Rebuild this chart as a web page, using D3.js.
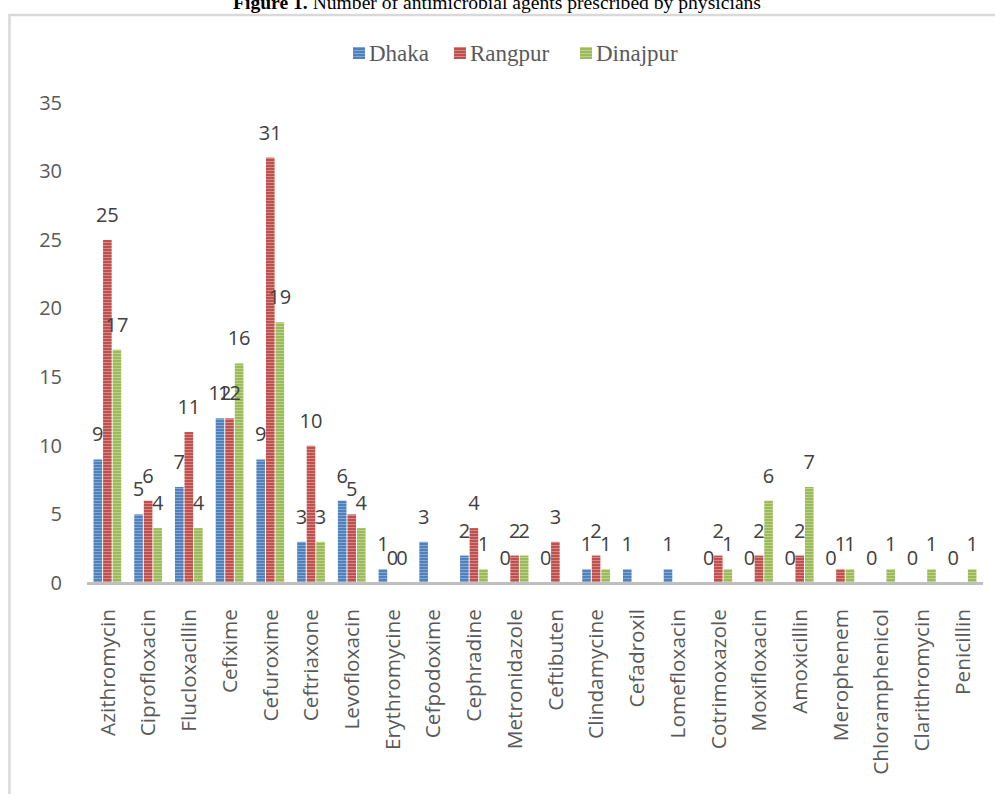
<!DOCTYPE html>
<html>
<head>
<meta charset="utf-8">
<script src="https://cdn.jsdelivr.net/npm/d3@7"></script>
<style>
  body { margin: 0; background: #fff; }
  svg { display: block; }
</style>
</head>
<body>
<div id="chart"></div>
<script>
var width = 995, height = 794;

// data (null = no bar, no label)
var drugs = ["Azithromycin", "Ciprofloxacin", "Flucloxacillin", "Cefixime", "Cefuroxime",
  "Ceftriaxone", "Levofloxacin", "Erythromycine", "Cefpodoxime", "Cephradine",
  "Metronidazole", "Ceftibuten", "Clindamycine", "Cefadroxil", "Lomefloxacin",
  "Cotrimoxazole", "Moxifloxacin", "Amoxicillin", "Merophenem", "Chloramphenicol",
  "Clarithromycin", "Penicillin"];
var dhaka    = [9, 5, 7, 12, 9, 3, 6, 1, 3, 2, 0, 0, 1, 1, 1, 0, 0, 0, 0, 0, 0, 0];
var rangpur  = [25, 6, 11, 12, 31, 10, 5, 0, null, 4, 2, 3, 2, null, null, 2, 2, 2, 1, null, null, null];
var dinajpur = [17, 4, 4, 16, 19, 3, 4, 0, null, 1, 2, null, 1, null, null, 1, 6, 7, 1, 1, 1, 1];
var seriesNames = ["Dhaka", "Rangpur", "Dinajpur"];
var yTicks = [0, 5, 10, 15, 20, 25, 30, 35];

var colors = { Dhaka: "#4F81BD", Rangpur: "#C0504D", Dinajpur: "#9BBB59" };
var stripes = { Dhaka: "#86A9D3", Rangpur: "#D68A88", Dinajpur: "#BDD28F" };

var seriesVals = { Dhaka: dhaka, Rangpur: rangpur, Dinajpur: dinajpur };

var svg = d3.select("#chart").append("svg")
    .attr("width", width)
    .attr("height", height);

// striped fills
var defs = svg.append("defs");
seriesNames.forEach(function(s) {
    var p = defs.append("pattern")
        .attr("id", "pat-" + s)
        .attr("patternUnits", "userSpaceOnUse")
        .attr("width", 4).attr("height", 3);
    p.append("rect").attr("width", 4).attr("height", 3).attr("fill", colors[s]);
    p.append("rect").attr("y", 2).attr("width", 4).attr("height", 1).attr("fill", stripes[s]);
});

// title (cut at top like the source)
var title = svg.append("text")
    .attr("x", 497).attr("y", 9)
    .attr("text-anchor", "middle")
    .style("font-family", "'Liberation Serif', 'Times New Roman', serif")
    .style("font-size", "19.6px")
    .attr("fill", "#000");
title.append("tspan").style("font-weight", "bold").text("Figure 1.");
title.append("tspan").text(" Number of antimicrobial agents prescribed by physicians");

// chart frame
svg.append("rect")
    .attr("x", 9.5).attr("y", 15)
    .attr("width", 1000).attr("height", 800)
    .attr("fill", "none")
    .attr("stroke", "#D9D9D9")
    .attr("stroke-width", 2.5);

// legend
var legendX = [353, 454, 580];
var legend = svg.append("g");
seriesNames.forEach(function(s, i) {
    legend.append("rect")
        .attr("x", legendX[i]).attr("y", 47)
        .attr("width", 12).attr("height", 12)
        .attr("fill", "url(#pat-" + s + ")");
    legend.append("text")
        .attr("x", legendX[i] + 16).attr("y", 61)
        .style("font-family", "'Liberation Serif', 'Times New Roman', serif")
        .style("font-size", "23px")
        .attr("fill", "#595959")
        .text(s);
});

var x0 = d3.scaleBand()
    .domain(drugs)
    .range([87, 983])
    .paddingInner(0.32)
    .paddingOuter(0.16);

var x1 = d3.scaleBand()
    .domain(seriesNames)
    .range([0, x0.bandwidth()])
    .paddingInner(0.1);

var y = d3.scaleLinear()
    .domain([0, 35])
    .range([583, 102.7]);

var font = "'Open Sans', 'Noto Sans', sans-serif";

// y axis labels only
var yAxis = d3.axisLeft(y).tickValues(yTicks).tickSize(0).tickPadding(8);
var gy = svg.append("g")
    .attr("transform", "translate(70,0)")
    .call(yAxis);
gy.select(".domain").remove();
gy.selectAll("text")
    .style("font-family", font)
    .style("font-size", "20px")
    .attr("fill", "#595959");

// bars
var rows = drugs.map(function(d, i) {
    return { drug: d, vals: seriesNames.map(function(s) { return { s: s, v: seriesVals[s][i] }; }) };
});

var groups = svg.selectAll(".grp")
    .data(rows)
    .enter().append("g")
    .attr("class", "grp")
    .attr("transform", function(d) { return "translate(" + x0(d.drug) + ",0)"; });

groups.selectAll("rect")
    .data(function(d) { return d.vals.filter(function(o) { return o.v !== null; }); })
    .enter().append("rect")
    .attr("x", function(o) { return x1(o.s); })
    .attr("y", function(o) { return y(o.v); })
    .attr("width", x1.bandwidth())
    .attr("height", function(o) { return y(0) - y(o.v); })
    .attr("fill", function(o) { return "url(#pat-" + o.s + ")"; });

groups.selectAll("text")
    .data(function(d) { return d.vals.filter(function(o) { return o.v !== null; }); })
    .enter().append("text")
    .attr("x", function(o) { return x1(o.s) + x1.bandwidth() / 2; })
    .attr("y", function(o) { return y(o.v) - 18; })
    .attr("text-anchor", "middle")
    .style("font-family", font)
    .style("font-size", "20px")
    .attr("fill", "#404040")
    .text(function(o) { return o.v; });

// x axis
var xAxis = d3.axisBottom(x0).tickSize(0).tickPadding(0);
var gx = svg.append("g")
    .attr("transform", "translate(0," + y(0) + ")")
    .call(xAxis);
gx.select(".domain").remove();
gx.append("line")
    .attr("x1", 87).attr("x2", 983)
    .attr("y1", 0.5).attr("y2", 0.5)
    .attr("stroke", "#BFBFBF")
    .attr("stroke-width", 3);
gx.selectAll(".tick text")
    .attr("transform", "rotate(-90)")
    .attr("x", -26)
    .attr("y", 0)
    .attr("dy", "0.35em")
    .attr("text-anchor", "end")
    .style("font-family", font)
    .style("font-size", "20.8px")
    .attr("fill", "#595959");
</script>
</body>
</html>
